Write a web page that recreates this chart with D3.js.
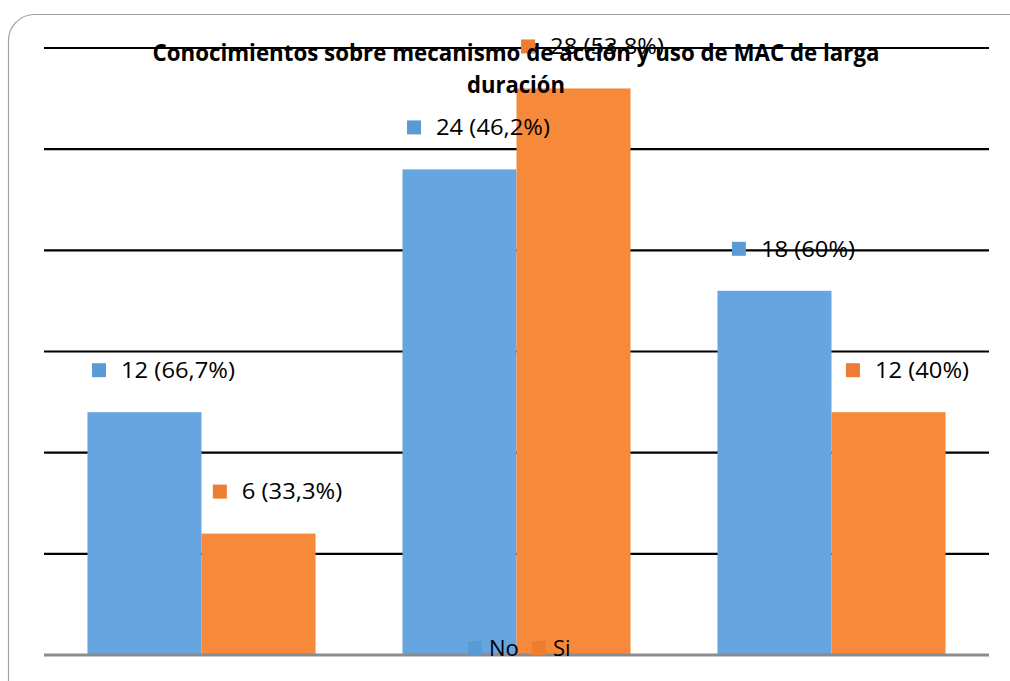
<!DOCTYPE html>
<html><head><meta charset="utf-8">
<script src="https://cdn.jsdelivr.net/npm/d3@7"></script>
<style>body{margin:0;background:#fff}svg{display:block}</style>
</head><body>
<svg id="c" width="1010" height="681"></svg>
<script>
const categories = ["Grupo 1", "Grupo 2", "Grupo 3"];
const seriesNames = ["No", "Si"];
const noValues = [12, 24, 18];
const siValues = [6, 28, 12];
const noLabels = ["12 (66,7%)", "24 (46,2%)", "18 (60%)"];
const siLabels = ["6 (33,3%)", "28 (53,8%)", "12 (40%)"];
const yTicks = [0, 5, 10, 15, 20, 25, 30];
const titleLines = ["Conocimientos sobre mecanismo de acción y uso de MAC de larga", "duración"];

const barColors = {No: "#66a5e0", Si: "#f68a3a"};
const keyColors = {No: "#5b9bd5", Si: "#ed7d31"};

const svg = d3.select("#c");
const L = 44, R = 989, T = 48, B = 655;

// frame
svg.append("rect").attr("x", 8.5).attr("y", 14.5).attr("width", 1030).attr("height", 700)
  .attr("rx", 26).attr("fill", "#fff").attr("stroke", "#a0a0a0").attr("stroke-width", 1.2);

const y = d3.scaleLinear().domain([0, 30]).range([B, T]);
const x0 = d3.scaleBand().domain(categories).range([L, R]).paddingInner(0.276).paddingOuter(0.138);
const x1 = d3.scaleBand().domain(seriesNames).range([0, x0.bandwidth()]);

// gridlines
svg.append("g").selectAll("line").data(yTicks.filter(t => t > 0)).join("line")
  .attr("x1", L).attr("x2", R).attr("y1", d => y(d)).attr("y2", d => y(d))
  .attr("stroke", "#000").attr("stroke-width", 2.2);

const data = categories.map((c, i) => ({cat: c, vals: [
  {s: "No", v: noValues[i], label: noLabels[i]},
  {s: "Si", v: siValues[i], label: siLabels[i]}]}));

const groups = svg.append("g").selectAll("g").data(data).join("g")
  .attr("transform", d => `translate(${x0(d.cat)},0)`);
groups.selectAll("rect").data(d => d.vals).join("rect")
  .attr("x", d => x1(d.s)).attr("width", x1.bandwidth())
  .attr("y", d => y(d.v)).attr("height", d => y(0) - y(d.v))
  .attr("fill", d => barColors[d.s]);

// baseline
svg.append("line").attr("x1", L).attr("x2", R).attr("y1", y(0)).attr("y2", y(0))
  .attr("stroke", "#8c8c8c").attr("stroke-width", 3);

// title
const font = "'Open Sans', 'Liberation Sans', sans-serif";
svg.append("text").attr("x", 516).attr("y", 61).attr("text-anchor", "middle")
  .attr("font-family", font).attr("font-weight", "bold").attr("font-size", 24)
  .attr("textLength", 727).attr("lengthAdjust", "spacingAndGlyphs")
  .text(titleLines[0]);
svg.append("text").attr("x", 516).attr("y", 93).attr("text-anchor", "middle")
  .attr("font-family", font).attr("font-weight", "bold").attr("font-size", 23)
  .attr("textLength", 98).attr("lengthAdjust", "spacingAndGlyphs")
  .text(titleLines[1]);

// data labels
const lab = groups.selectAll("g.lab").data(d => d.vals).join("g").attr("class", "lab")
  .attr("transform", d => `translate(${x1(d.s) + x1.bandwidth() / 2 + 19},${y(d.v) - 42})`);
lab.each(function(d) {
  const g = d3.select(this);
  const t = g.append("text").attr("font-family", font).attr("font-size", 22)
    .attr("fill", "#000").attr("dy", "0.35em").text(d.label);
  const w = t.node().getComputedTextLength() * 1.08;
  t.attr("textLength", w).attr("lengthAdjust", "spacingAndGlyphs");
  const total = 14 + 15 + w;
  g.append("rect").attr("x", -total / 2).attr("y", -7).attr("width", 14).attr("height", 14)
    .attr("fill", keyColors[d.s]);
  t.attr("x", -total / 2 + 29);
});

// legend
const leg = svg.append("g").attr("transform", `translate(468,648)`);
const legItems = leg.selectAll("g").data(seriesNames).join("g")
  .attr("transform", (d, i) => `translate(${i * 64},0)`);
legItems.append("rect").attr("x", 0).attr("y", -7).attr("width", 14).attr("height", 14)
  .attr("fill", d => keyColors[d]);
legItems.append("text").attr("x", 21).attr("dy", "0.35em").attr("font-family", font)
  .attr("font-size", 22).attr("fill", "#000").text(d => d);
</script>
</body></html>
